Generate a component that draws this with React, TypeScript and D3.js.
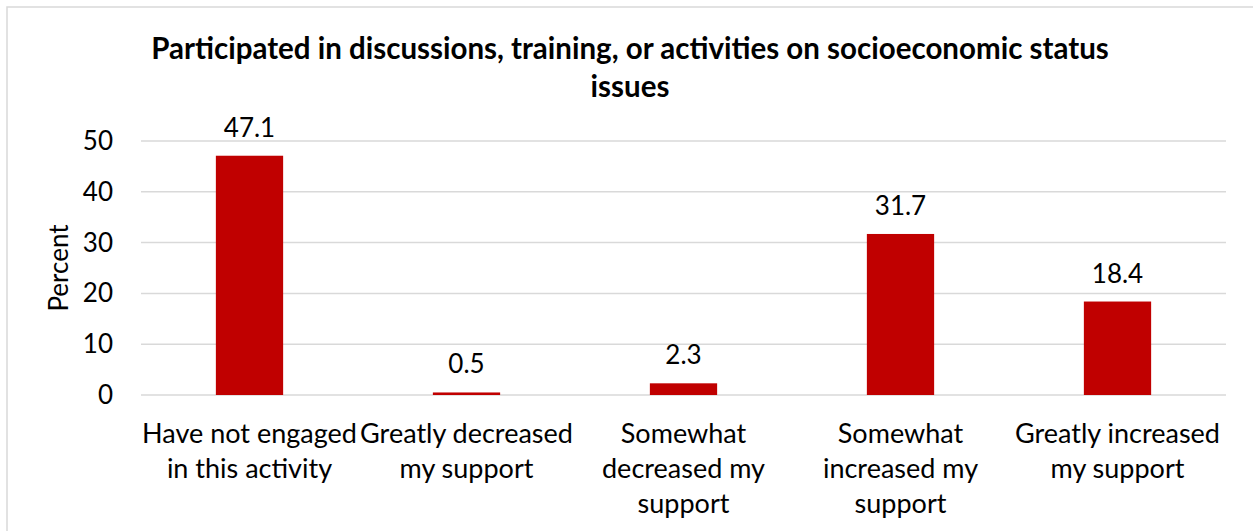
import React from "react";
import * as d3 from "d3";

const categories: string[][] = [
  ["Have not engaged", "in this activity"],
  ["Greatly decreased", "my support"],
  ["Somewhat", "decreased my", "support"],
  ["Somewhat", "increased my", "support"],
  ["Greatly increased", "my support"],
];
const values: number[] = [47.1, 0.5, 2.3, 31.7, 18.4];
const yTicks: number[] = [0, 10, 20, 30, 40, 50];
const titleLines: string[] = [
  "Participated in discussions, training, or activities on socioeconomic status",
  "issues",
];
const yLabel = "Percent";

const W = 1253;
const H = 531;
const FONT = "Lato, 'Open Sans', sans-serif";

export default function App() {
  const left = 141;
  const right = 1226;
  const x = d3
    .scaleBand<number>()
    .domain(values.map((_, i) => i))
    .range([left, right])
    .paddingInner(0.69)
    .paddingOuter(0.345);
  const y = d3.scaleLinear().domain([0, 50]).range([395, 141]);
  const band = (right - left) / values.length;

  return (
    <svg
      width={W}
      height={H}
      style={{ position: "absolute", left: 0, top: 0, background: "#fff" }}
    >
      <rect x={7} y={7} width={W + 10} height={H + 10} fill="#fff" stroke="#d9d9d9" strokeWidth={1.5} />
      <text fontFamily={FONT} fontWeight="bold" fontSize={29.5} textAnchor="middle" fill="#000">
        {titleLines.map((t, i) => (
          <tspan key={i} x={630} y={59 + i * 38}>
            {t}
          </tspan>
        ))}
      </text>
      {yTicks.map((t) => (
        <g key={t}>
          <line x1={left} x2={right} y1={y(t)} y2={y(t)} stroke="#d9d9d9" strokeWidth={1.5} />
          <text x={113} y={y(t) + 9} textAnchor="end" fontFamily={FONT} fontSize={26} fill="#000">
            {t}
          </text>
        </g>
      ))}
      <text
        transform={`translate(68,268) rotate(-90)`}
        textAnchor="middle"
        fontFamily={FONT}
        fontSize={26}
        fill="#000"
      >
        {yLabel}
      </text>
      {values.map((v, i) => {
        const bx = x(i)!;
        const cx = left + band * (i + 0.5);
        return (
          <g key={i}>
            <rect x={bx} y={y(v)} width={x.bandwidth()} height={y(0) - y(v)} fill="#c00000" />
            <text x={cx} y={y(v) - 19} textAnchor="middle" fontFamily={FONT} fontSize={26} fill="#000">
              {v.toFixed(1)}
            </text>
            <text textAnchor="middle" fontFamily={FONT} fontSize={27} fill="#000">
              {categories[i].map((l, j) => (
                <tspan key={j} x={cx} y={443 + j * 35}>
                  {l}
                </tspan>
              ))}
            </text>
          </g>
        );
      })}
    </svg>
  );
}
